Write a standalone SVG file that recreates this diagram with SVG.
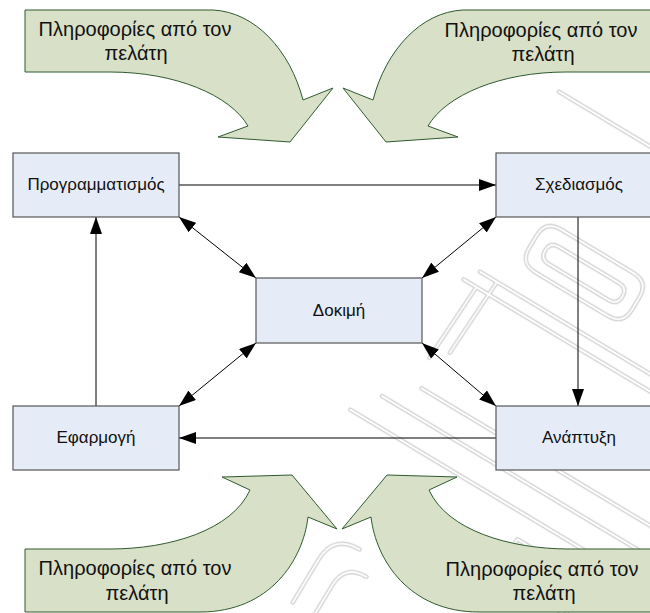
<svg xmlns="http://www.w3.org/2000/svg" width="650" height="613" viewBox="0 0 650 613">
  <style>
    .box { fill: #e6ecf7; stroke: #555555; stroke-width: 1.2; }
    .lbl { font-family: "Liberation Sans", Arial, sans-serif; font-size: 17px; fill: #111111; text-anchor: middle; }
    .big { font-size: 20px; }
    .info { fill: #d9e0c8; stroke: #2f5a2f; stroke-width: 1; }
    .conn { stroke: #000000; stroke-width: 1; fill: none; }
    .wm { fill: none; stroke: #d0d0d0; stroke-width: 4.4; stroke-linecap: round; stroke-linejoin: round; }
    .wm-in { fill: none; stroke: #ffffff; stroke-width: 1.8; stroke-linecap: round; stroke-linejoin: round; }
  </style>
  <defs>
    <marker id="head" markerUnits="userSpaceOnUse" markerWidth="17" markerHeight="12" refX="17" refY="6" orient="auto-start-reverse">
      <path d="M0,0 L17,6 L0,12 Z" fill="#000000"/>
    </marker>
    <filter id="soft" x="-10%" y="-10%" width="120%" height="120%">
      <feGaussianBlur stdDeviation="0.6"/>
    </filter>
    <path id="curveDown" d="M25,10 L213,10 C255,12 290,50 303,100 L333,88 L290,142 L218,137 L248,126 C230,95 175,72 110,72 L25,72 Z"/>
    <path id="curveUp" d="M25,549 L110,549 C170,549 232,530 250,490 L222,477 L292,475 L337,529 L308,517 C303,560 270,612 200,612 L25,612 Z"/>
    <!-- faint background emblem, drawn in a frame tilted 31 degrees -->
    <path id="emblem" d="M-45,-195 L90,-195
      M10,-60 Q10,-78 28,-78 L112,-78 Q130,-78 130,-60 L130,-46 Q130,-28 112,-28 L28,-28 Q10,-28 10,-46 Z
      M35,-62 L105,-62 Q115,-62 115,-52 Q115,-42 105,-42 L35,-42 Q25,-42 25,-52 Q25,-62 35,-62 Z
      M-20,0 L220,0 M-30,15 L220,15
      M0,0 L-4,85 M-15,15 L-19,100
      M-10,130 L260,130 M-40,157 L260,157 M-60,185 L260,185
      M150,210 L230,210 L230,250 L150,250 Z
      M20,300 Q-10,300 -10,330 L-10,380 M40,320 Q15,320 15,345 L15,390"/>
  </defs>

  <rect width="650" height="613" fill="#ffffff"/>

  <g id="background-emblem" transform="translate(497,282) rotate(31)" filter="url(#soft)">
    <use href="#emblem" class="wm"/>
    <use href="#emblem" class="wm-in"/>
  </g>

  <!-- customer input arrows -->
  <g id="info-top-left">
    <use href="#curveDown" class="info"/>
    <text class="lbl big" x="135" y="36">Πληροφορίες από τον</text>
    <text class="lbl big" x="136" y="60">πελάτη</text>
  </g>
  <g id="info-top-right">
    <use href="#curveDown" class="info" transform="translate(676,0) scale(-1,1)"/>
    <text class="lbl big" x="541" y="37">Πληροφορίες από τον</text>
    <text class="lbl big" x="543" y="61">πελάτη</text>
  </g>
  <g id="info-bottom-left">
    <use href="#curveUp" class="info"/>
    <text class="lbl big" x="135" y="575">Πληροφορίες από τον</text>
    <text class="lbl big" x="137" y="600">πελάτη</text>
  </g>
  <g id="info-bottom-right">
    <use href="#curveUp" class="info" transform="translate(679,0) scale(-1,1)"/>
    <text class="lbl big" x="542" y="576">Πληροφορίες από τον</text>
    <text class="lbl big" x="544" y="600">πελάτη</text>
  </g>

  <!-- connectors -->
  <g id="connectors">
    <line class="conn" x1="179" y1="185" x2="496" y2="185" marker-end="url(#head)"/>
    <line class="conn" x1="578" y1="217" x2="578" y2="406" marker-end="url(#head)"/>
    <line class="conn" x1="496" y1="438" x2="179" y2="438" marker-end="url(#head)"/>
    <line class="conn" x1="96" y1="406" x2="96" y2="217" marker-end="url(#head)"/>
    <line class="conn" x1="179" y1="217" x2="256" y2="278" marker-start="url(#head)" marker-end="url(#head)"/>
    <line class="conn" x1="496" y1="217" x2="422" y2="278" marker-start="url(#head)" marker-end="url(#head)"/>
    <line class="conn" x1="256" y1="343" x2="179" y2="406" marker-start="url(#head)" marker-end="url(#head)"/>
    <line class="conn" x1="422" y1="343" x2="496" y2="406" marker-start="url(#head)" marker-end="url(#head)"/>
  </g>

  <!-- process stages -->
  <g id="programming">
    <rect class="box" x="13" y="153" width="166" height="64"/>
    <text class="lbl" x="96" y="190">Προγραμματισμός</text>
  </g>
  <g id="design">
    <rect class="box" x="496" y="153" width="166" height="64"/>
    <text class="lbl" x="579" y="190">Σχεδιασμός</text>
  </g>
  <g id="testing">
    <rect class="box" x="256" y="278" width="166" height="65"/>
    <text class="lbl" x="339" y="316">Δοκιμή</text>
  </g>
  <g id="deployment">
    <rect class="box" x="13" y="406" width="166" height="64"/>
    <text class="lbl" x="96" y="443">Εφαρμογή</text>
  </g>
  <g id="development">
    <rect class="box" x="496" y="406" width="166" height="64"/>
    <text class="lbl" x="579" y="443">Ανάπτυξη</text>
  </g>
</svg>
